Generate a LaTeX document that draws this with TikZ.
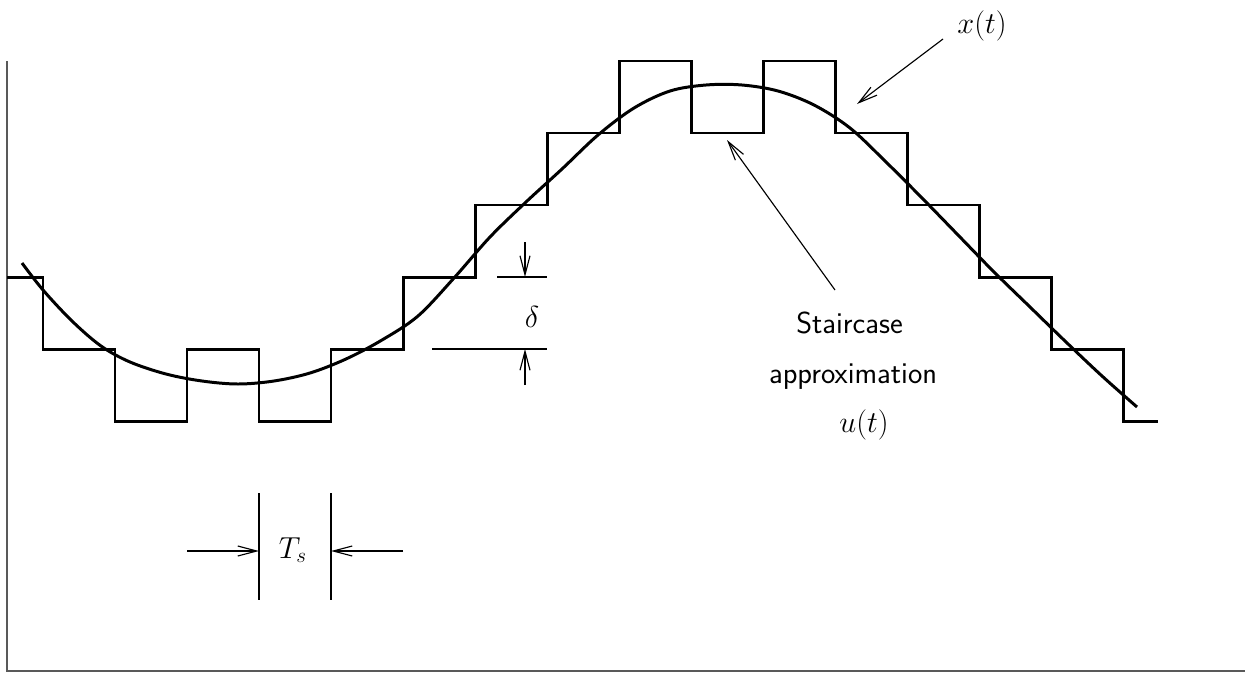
\documentclass[tikz,border=0pt]{standalone}
\usetikzlibrary{arrows.meta}
\begin{document}
\begin{tikzpicture}[x=0.02cm,y=-0.02cm,
  stair/.style={line width=1.7pt, line join=miter},
  sig/.style={line width=1.7pt, line cap=butt},
  thinline/.style={line width=0.65pt},
  arr/.style={thinline, -{Straight Barb[length=0.38cm,width=0.2cm]}},
  axis/.style={line width=0.8pt, draw=black!65},
  lbl/.style={font=\fontsize{17.3}{20}\selectfont, inner sep=0pt},
  slbl/.style={font=\fontsize{17.3}{20}\selectfont\sffamily, inner sep=0pt}]
\useasboundingbox (0,0) rectangle (1246,673);
% axes
\coordinate (ytop) at (7,61);
\coordinate (orig) at (7,671);
\coordinate (xend) at (1245,671);
\draw[axis] (ytop) -- (orig) -- (xend);
% staircase u(t)
\draw[stair] (7,277) -- (43,277) -- (43,349) -- (115,349) -- (115,421) -- (187,421)
  -- (187,349) -- (259,349) -- (259,421) -- (331,421) -- (331,349) -- (403,349)
  -- (403,277) -- (475,277) -- (475,205) -- (547,205) -- (547,133) -- (619,133)
  -- (619,61) -- (691,61) -- (691,133) -- (763,133) -- (763,61) -- (835,61)
  -- (835,133) -- (907,133) -- (907,205) -- (979,205) -- (979,277) -- (1051,277)
  -- (1051,349) -- (1123,349) -- (1123,421) -- (1158,421);
% signal x(t)
\draw[sig] plot[smooth, tension=0.55] coordinates {
  (22,263) (43,290) (72,321) (101,346) (130,362) (166,374) (202,381) (238,384)
  (274,381) (310,373) (346,359) (382,340) (418,316) (454,278) (490,237)
  (526,202) (562,169) (598,135) (634,108) (670,91) (706,85) (742,85) (778,91)
  (814,105) (850,128) (886,162) (922,198) (958,235) (994,272) (1030,307)
  (1066,342) (1102,376) (1137,407)};
% delta annotation
\coordinate (dtl) at (497,277);
\coordinate (dtr) at (547,277);
\coordinate (dbl) at (432,349);
\coordinate (dbr) at (547,349);
\coordinate (dta) at (525,242);
\coordinate (dtb) at (525,277);
\coordinate (dba) at (525,385);
\coordinate (dbb) at (525,349);
\draw[thinline] (dtl) -- (dtr);
\draw[thinline] (dbl) -- (dbr);
\draw[arr] (dta) -- (dtb);
\draw[arr] (dba) -- (dbb);
\node[lbl] (delta) at (532,317) {$\delta$};
% Ts annotation
\coordinate (t1a) at (259,493);
\coordinate (t1b) at (259,600);
\coordinate (t2a) at (331,493);
\coordinate (t2b) at (331,600);
\coordinate (tla) at (187,551);
\coordinate (tlb) at (259,551);
\coordinate (tra) at (403,551);
\coordinate (trb) at (331,551);
\draw[thinline] (t1a) -- (t1b);
\draw[thinline] (t2a) -- (t2b);
\draw[arr] (tla) -- (tlb);
\draw[arr] (tra) -- (trb);
\node[lbl, anchor=base] (ts) at (293,558) {$T_s$};
% labels
\node[slbl, anchor=base] (stc) at (849.5,333) {Staircase};
\node[slbl, anchor=base] (apx) at (853,383) {approximation};
\node[lbl, anchor=base] (ut) at (864,432) {$u(t)$};
\node[lbl, anchor=base] (xt) at (982,33) {$x(t)$};
\coordinate (sa) at (835,290);
\coordinate (sb) at (727,140);
\coordinate (xa) at (943,39);
\coordinate (xb) at (857,104);
\draw[arr] (sa) -- (sb);
\draw[arr] (xa) -- (xb);
\end{tikzpicture}
\end{document}
